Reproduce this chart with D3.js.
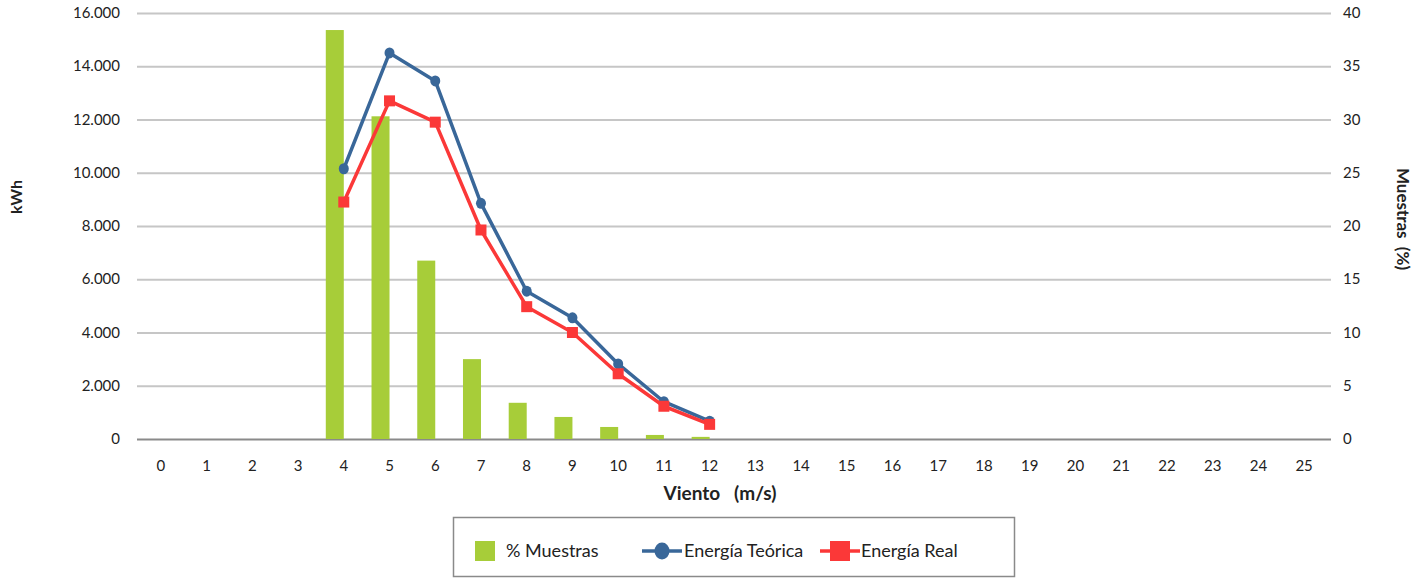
<!DOCTYPE html>
<html>
<head>
<meta charset="utf-8">
<script src="https://cdn.jsdelivr.net/npm/d3@7"></script>
<style>
    body { margin: 0; background: #fff; }
    #chart { width: 1425px; height: 580px; }
    text { font-family: Lato, "Open Sans", sans-serif; fill: #222; }
    .tick-label { font-size: 15px; }
    .axis--label { font-size: 17px; font-weight: bold; }
    .legend--label { font-size: 18px; }
</style>
</head>
<body>
<div id="chart"></div>
<script>
// wind speed classes (m/s)
const vientos = d3.range(0, 26);
// % of samples per class (right axis)
const muestras = [0, 0, 0, 0, 38.4, 30.3, 16.75, 7.5, 3.4, 2.07, 1.13, 0.38, 0.2, 0, 0, 0, 0, 0, 0, 0, 0, 0, 0, 0, 0, 0];
// energy series (left axis, kWh), only for 4..12 m/s
const vientosEnergia = [4, 5, 6, 7, 8, 9, 10, 11, 12];
const energiaTeorica = [10150, 14500, 13450, 8850, 5550, 4550, 2820, 1400, 670];
const energiaReal = [8900, 12700, 11900, 7850, 4970, 4000, 2450, 1230, 550];
const leftTicks = [0, 2000, 4000, 6000, 8000, 10000, 12000, 14000, 16000];
const rightTicks = [0, 5, 10, 15, 20, 25, 30, 35, 40];

const width = 1425;
const height = 580;
const margin = {top: 13, left: 138, right: 98, bottom: 141};

const svg = d3.select("#chart")
    .append("svg")
    .attr("width", width)
    .attr("height", height);

/*
SCALES
*/
const xScale = d3.scaleBand()
    .domain(vientos)
    .range([margin.left, width - margin.right]);

const yLeft = d3.scaleLinear()
    .domain([0, 16000])
    .range([height - margin.bottom, margin.top]);

const yRight = d3.scaleLinear()
    .domain([0, 40])
    .range([height - margin.bottom, margin.top]);

const cx = function(v) { return xScale(v) + xScale.bandwidth() / 2; };
const fmt = d3.formatLocale({decimal: ",", thousands: ".", grouping: [3]}).format(",");

const plotRight = width - margin.right + 4;

/*
GRIDLINES + TICK LABELS
*/
svg.append("g")
    .selectAll("line")
    .data(leftTicks)
    .enter()
    .append("line")
        .attr("x1", margin.left - 1)
        .attr("x2", plotRight)
        .attr("y1", function(d) { return yLeft(d) + 0.5; })
        .attr("y2", function(d) { return yLeft(d) + 0.5; })
        .attr("stroke", function(d) { return d === 0 ? "#8a8a8a" : "#c6c6c6"; })
        .attr("stroke-width", 2);

svg.append("g")
    .selectAll("text")
    .data(leftTicks)
    .enter()
    .append("text")
        .attr("class", "tick-label")
        .attr("x", 120)
        .attr("y", function(d) { return yLeft(d) + 5; })
        .attr("text-anchor", "end")
        .text(function(d) { return fmt(d); });

svg.append("g")
    .selectAll("text")
    .data(rightTicks)
    .enter()
    .append("text")
        .attr("class", "tick-label")
        .attr("x", 1343)
        .attr("y", function(d) { return yRight(d) + 5; })
        .text(function(d) { return d; });

svg.append("g")
    .selectAll("text")
    .data(vientos)
    .enter()
    .append("text")
        .attr("class", "tick-label")
        .attr("x", cx)
        .attr("y", 471)
        .attr("text-anchor", "middle")
        .text(function(d) { return d; });

/*
BARS
*/
const barW = 18;
svg.append("g")
    .selectAll("rect")
    .data(vientos.filter(function(v, i) { return muestras[i] > 0; }))
    .enter()
    .append("rect")
        .attr("x", function(v) { return cx(v) - barW; })
        .attr("y", function(v) { return yRight(muestras[v]); })
        .attr("width", barW)
        .attr("height", function(v) { return yRight(0) - yRight(muestras[v]); })
        .attr("fill", "#a7cd39");

/*
LINES
*/
const line = d3.line()
    .x(function(d) { return cx(d[0]); })
    .y(function(d) { return yLeft(d[1]); });

const teorica = d3.zip(vientosEnergia, energiaTeorica);
const real = d3.zip(vientosEnergia, energiaReal);

svg.append("path")
    .datum(teorica)
    .attr("d", line)
    .attr("fill", "none")
    .attr("stroke", "#396799")
    .attr("stroke-width", 3.5)
    .attr("stroke-linejoin", "round");

svg.append("g")
    .selectAll("ellipse")
    .data(teorica)
    .enter()
    .append("ellipse")
        .attr("cx", function(d) { return cx(d[0]); })
        .attr("cy", function(d) { return yLeft(d[1]); })
        .attr("rx", 5)
        .attr("ry", 5.5)
        .attr("fill", "#396799");

svg.append("path")
    .datum(real)
    .attr("d", line)
    .attr("fill", "none")
    .attr("stroke", "#fb3838")
    .attr("stroke-width", 3.5)
    .attr("stroke-linejoin", "round");

svg.append("g")
    .selectAll("rect")
    .data(real)
    .enter()
    .append("rect")
        .attr("x", function(d) { return cx(d[0]) - 5.5; })
        .attr("y", function(d) { return yLeft(d[1]) - 5.5; })
        .attr("width", 11)
        .attr("height", 11)
        .attr("fill", "#fb3838");

/*
AXIS LABELS
*/
svg.append("text")
    .attr("class", "axis--label")
    .attr("transform", "translate(22,197) rotate(-90)")
    .attr("text-anchor", "middle")
    .style("font-size", "16px")
    .text("kWh");

svg.append("text")
    .attr("class", "axis--label")
    .attr("transform", "translate(1397,219) rotate(90)")
    .attr("text-anchor", "middle")
    .attr("xml:space", "preserve")
    .text("Muestras  (%)");

svg.append("text")
    .attr("class", "axis--label")
    .attr("x", 720)
    .attr("y", 500)
    .attr("text-anchor", "middle")
    .attr("xml:space", "preserve")
    .style("font-size", "19px")
    .text("Viento   (m/s)");

/*
LEGEND
*/
const legend = svg.append("g");
legend.append("rect")
    .attr("x", 453.5)
    .attr("y", 517.5)
    .attr("width", 561)
    .attr("height", 59)
    .attr("fill", "#fff")
    .attr("stroke", "#8a8a8a")
    .attr("stroke-width", 1.5);

legend.append("rect")
    .attr("x", 475).attr("y", 541)
    .attr("width", 20).attr("height", 20)
    .attr("fill", "#a7cd39");
legend.append("text")
    .attr("class", "legend--label")
    .attr("x", 506).attr("y", 557)
    .text("% Muestras");

legend.append("line")
    .attr("x1", 642).attr("x2", 682)
    .attr("y1", 551).attr("y2", 551)
    .attr("stroke", "#396799").attr("stroke-width", 3.5);
legend.append("ellipse")
    .attr("cx", 662).attr("cy", 551)
    .attr("rx", 7.5).attr("ry", 8.5)
    .attr("fill", "#396799");
legend.append("text")
    .attr("class", "legend--label")
    .attr("x", 684).attr("y", 557)
    .text("Energía Teórica");

legend.append("line")
    .attr("x1", 820).attr("x2", 860)
    .attr("y1", 551).attr("y2", 551)
    .attr("stroke", "#fb3838").attr("stroke-width", 3.5);
legend.append("rect")
    .attr("x", 830).attr("y", 541)
    .attr("width", 20).attr("height", 20)
    .attr("fill", "#fb3838");
legend.append("text")
    .attr("class", "legend--label")
    .attr("x", 861).attr("y", 557)
    .text("Energía Real");
</script>
</body>
</html>
